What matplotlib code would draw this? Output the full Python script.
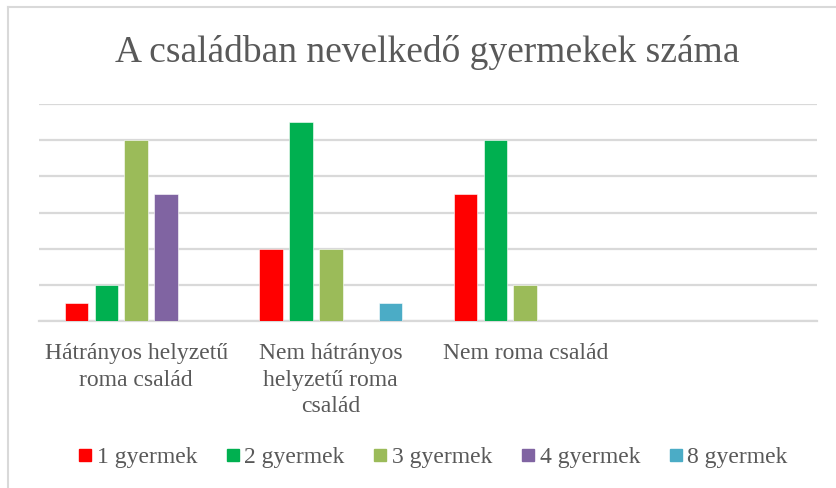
import numpy as np
import matplotlib.pyplot as plt
from matplotlib.lines import Line2D

# data
categories = ['Hátrányos helyzetű\nroma család', 'Nem hátrányos\nhelyzetű roma\ncsalád', 'Nem roma család', '']
series = ['1 gyermek', '2 gyermek', '3 gyermek', '4 gyermek', '8 gyermek']
v1 = [1, 4, 7, 0]
v2 = [2, 11, 10, 0]
v3 = [10, 4, 2, 0]
v4 = [7, 0, 0, 0]
v8 = [0, 1, 0, 0]
values = [v1, v2, v3, v4, v8]
colors = ['#FF0000', '#00B050', '#9BBB59', '#8064A2', '#4BACC6']

plt.rcParams['font.family'] = ['Liberation Serif', 'DejaVu Serif']
txt = '#595959'

fig = plt.figure(figsize=(8.36, 4.88), dpi=100)
ax = fig.add_axes([39/836, 1 - 321/488, (817 - 39)/836, (321 - 104)/488])

x = np.arange(len(categories))
slot = 0.154
width = 0.121
for i, (vals, c) in enumerate(zip(values, colors)):
    ax.bar(x + (i - 2) * slot, vals, width, color=c, edgecolor='white', linewidth=0.4, zorder=3)

ax.set_xlim(-0.5, 3.5)
ax.set_ylim(0, 12)
ax.set_yticks(np.arange(0, 13, 2))
ax.yaxis.grid(True, color='#d9d9d9', linewidth=1.6, zorder=0)
ax.set_yticklabels([])
ax.tick_params(axis='y', length=0)
ax.set_xticks(x)
ax.set_xticklabels(categories, fontsize=17, color=txt, linespacing=1.33)
ax.tick_params(axis='x', length=0, pad=16)
for s in ['left', 'right', 'top']:
    ax.spines[s].set_visible(False)
ax.spines['bottom'].set_color('#d9d9d9')
ax.spines['bottom'].set_linewidth(1.6)

fig.text(0.511, 1 - 52/488, 'A családban nevelkedő gyermekek száma', ha='center', va='center',
         fontsize=27, color=txt)

handles = [Line2D([], [], marker='s', linestyle='none', markersize=8.5, color=c) for c in colors]
fig.legend(handles, series, loc='center', bbox_to_anchor=(0.517, 1 - 457/488), ncol=5, frameon=False,
           fontsize=17, labelcolor=txt, handletextpad=0.15, columnspacing=1.15, handlelength=0.7)

# chart border (left and top)
fig.add_artist(Line2D([8/836, 8/836], [0, 1 - 7/488], color='#d9d9d9', linewidth=1.5))
fig.add_artist(Line2D([8/836, 1], [1 - 7/488, 1 - 7/488], color='#d9d9d9', linewidth=1.5))

fig.savefig('out.png', dpi=100)
